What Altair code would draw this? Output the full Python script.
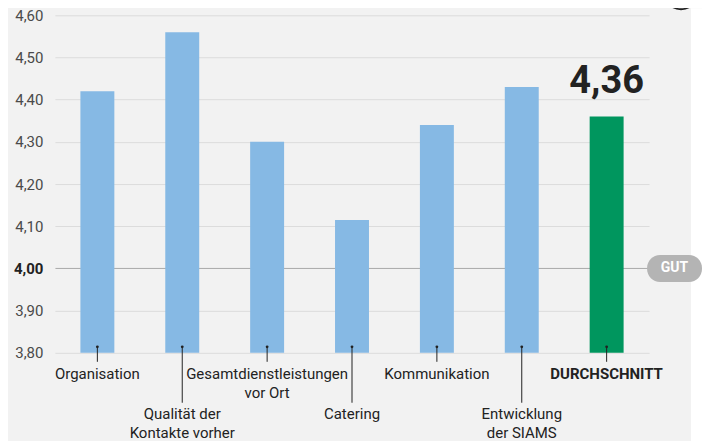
import altair as alt
import pandas as pd

categories = [
    "Organisation",
    "Qualität der\nKontakte vorher",
    "Gesamtdienstleistungen\nvor Ort",
    "Catering",
    "Kommunikation",
    "Entwicklung\nder SIAMS",
    "DURCHSCHNITT",
]
values = [4.42, 4.56, 4.30, 4.115, 4.34, 4.43, 4.36]
y_ticks = [3.8, 3.9, 4.0, 4.1, 4.2, 4.3, 4.4, 4.5, 4.6]
reference_value = 4.0
reference_label = "GUT"
average_name = "DURCHSCHNITT"
average_text = "4,36"

df = pd.DataFrame({
    "cat": categories,
    "value": values,
    "row": [i % 2 for i in range(len(categories))],
    "avg": [c == average_name for c in categories],
})

FONT = "Roboto"
W, H = 595, 338

xenc = alt.X("cat:N", sort=categories, axis=None,
             scale=alt.Scale(paddingInner=0.6, paddingOuter=0.3))
yscale = alt.Scale(domain=[3.8, 4.6], zero=False, nice=False)

base = alt.Chart(df)
one = alt.Chart(pd.DataFrame({"v": [reference_value]}))

is_ref = "abs(datum.value - 4) < 0.001"

white_side = one.mark_rect(color="white").encode(
    x=alt.value(637), x2=alt.value(700), y=alt.value(-7), y2=alt.value(440)
)

bars = base.mark_bar().encode(
    x=xenc,
    y=alt.Y("value:Q", scale=yscale, title=None,
            axis=alt.Axis(
                values=y_ticks,
                labelExpr="replace(format(datum.value, '.2f'), '.', ',')",
                labelFontWeight={"condition": {"test": is_ref, "value": "bold"}, "value": "normal"},
                labelColor={"condition": {"test": is_ref, "value": "#222222"}, "value": "#4a4a4a"},
                gridColor={"condition": {"test": is_ref, "value": "#a9a9a9"}, "value": "#dcdcdc"},
                grid=True, domain=False, ticks=False, labelPadding=12,
                labelFont=FONT, labelFontSize=15,
            )),
    y2=alt.datum(3.8),
    color=alt.condition("datum.avg", alt.value("#00965e"), alt.value("#86b9e4")),
)

dots = base.mark_point(filled=True, color="#222222", size=8, opacity=1).encode(
    x=xenc, y=alt.value(332)
)
rule0 = base.transform_filter("datum.row == 0").mark_rule(color="#222222", strokeWidth=1).encode(
    x=xenc, y=alt.value(332), y2=alt.value(347)
)
rule1 = base.transform_filter("datum.row == 1").mark_rule(color="#222222", strokeWidth=1).encode(
    x=xenc, y=alt.value(332), y2=alt.value(388)
)

txt_kw = dict(font=FONT, fontSize=15, color="#222222", lineBreak="\n",
              lineHeight=19, baseline="alphabetic", align="center")
labels0 = base.transform_filter("datum.row == 0 && !datum.avg").mark_text(**txt_kw).encode(
    x=xenc, y=alt.value(364), text="cat:N"
)
labels0b = base.transform_filter("datum.avg").mark_text(fontWeight="bold", **txt_kw).encode(
    x=xenc, y=alt.value(364), text="cat:N"
)
labels1 = base.transform_filter("datum.row == 1").mark_text(**txt_kw).encode(
    x=xenc, y=alt.value(404), text="cat:N"
)

pill = one.mark_rect(color="#b4b4b4", cornerRadius=13, yOffset=-13.5, y2Offset=13.5).encode(
    x=alt.value(593), x2=alt.value(648),
    y=alt.Y("v:Q", scale=yscale), y2="v:Q",
)
pill_text = one.mark_text(font=FONT, fontSize=14, fontWeight="bold", color="white",
                          baseline="middle", align="center").encode(
    x=alt.value(620.5), y=alt.Y("v:Q", scale=yscale), text=alt.value(reference_label)
)

avg_label = base.transform_filter("datum.avg").mark_text(
    font=FONT, fontSize=38, fontWeight="bold", color="#222222",
    baseline="alphabetic", align="center", dy=-24
).encode(x=xenc, y=alt.Y("value:Q", scale=yscale), text=alt.value(average_text))

badge = one.mark_point(shape="circle", size=1150, filled=False, color="#222222",
                       strokeWidth=1.8, opacity=1).encode(
    x=alt.value(627), y=alt.value(-23)
)

chart = alt.layer(
    white_side, bars, dots, rule0, rule1, labels0, labels0b, labels1,
    pill, pill_text, avg_label, badge
).properties(
    width=W, height=H,
    autosize=alt.AutoSizeParams(type="none"),
    padding={"left": 47, "top": 7, "right": 53, "bottom": 88},
    background="#f2f2f2",
).configure_view(stroke=None)

chart.save("out.html", embed_options={"renderer": "svg", "actions": False})
